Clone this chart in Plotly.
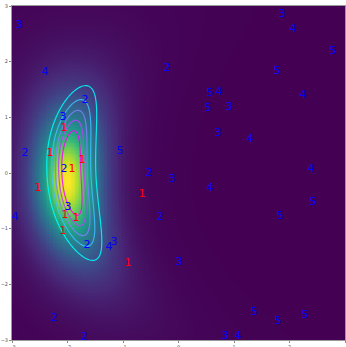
import numpy as np
import plotly.graph_objects as go

# ---- text labels (data coords) ----
label_x = [-2.874, -2.405, -1.685, -2.081, -2.063, -2.766, -2.315, -1.739, -2.063, -1.919,
           -2.532, -2.946, -1.991, -2.045, -1.847, -2.081, -1.649, -1.252, -1.162, -2.243,
           -1.703, -1.054, -0.207, 0.568, 0.730, 0.532, 0.910, 0.712, -0.532, -0.117,
           0.568, -0.658, -0.333, -0.910, 0.009, 0.838, 1.072, 1.865, 2.063, 2.784,
           1.775, 2.243, 1.288, 2.387, 2.423, 1.829, 1.360, 1.793, 2.279]
label_y = [2.659, 1.815, 1.312, 1.007, 0.810, 0.361, 0.361, 0.235, 0.074, 0.074,
           -0.268, -0.788, -0.609, -0.752, -0.806, -1.040, -1.291, -1.327, -1.237, -2.601,
           -2.943, 0.397, 1.887, 1.438, 1.456, 1.169, 1.187, 0.720, 0.002, -0.106,
           -0.268, -0.375, -0.788, -1.614, -1.596, -2.925, -2.925, 2.856, 2.587, 2.192,
           1.833, 1.402, 0.612, 0.074, -0.519, -0.770, -2.494, -2.655, -2.548]
label_text = ['3', '4', '2', '3', '1', '2', '1', '1', '2', '1',
              '1', '4', '3', '1', '1', '1', '2', '4', '3', '2',
              '2', '5', '2', '5', '4', '5', '3', '3', '2', '3',
              '4', '1', '2', '1', '3', '3', '4', '3', '4', '5',
              '5', '4', '4', '4', '5', '5', '5', '5', '5']

tick_vals = [-3, -2, -1, 0, 1, 2, 3]
tick_text = ['\u22123', '\u22122', '\u22121', '0', '1', '2', '3']

# ---- density shape parameters ----
heat_center = [-2.0, -0.15]        # peak position
heat_curv = [0.03, 0.12]           # bend above / below peak
heat_width = [0.426, 0.955]        # x, y scale
heat_nu = 5.0

cont_center = [-1.93, 0.0]
cont_bend = [0.13, -0.04]
cont_width = [0.226, 0.94]
cont_power = 2.6
cont_levels = [0.15, 0.75, 0.15]   # start, end, step

grid = np.linspace(-3, 3, 241)
X, Y = np.meshgrid(grid, grid)

# heatmap density (banana, heavy tails)
V = Y - heat_center[1]
curv = np.where(V > 0, heat_curv[0], heat_curv[1])
U = X - (heat_center[0] + curv * V ** 2)
sx = heat_width[0] * (1 + 0.08 * V ** 2)
Q = (U / sx) ** 2 + (V / heat_width[1]) ** 2
H = (1 + Q / heat_nu) ** (-(heat_nu + 2) / 2)
H = H / H.max()

# contour density
Vc = Y - cont_center[1]
Uc = X - (cont_center[0] + cont_bend[0] * Vc ** 2 + cont_bend[1] * Vc)
C = np.exp(-0.5 * (Uc / cont_width[0]) ** 2 - 0.5 * np.abs(Vc / cont_width[1]) ** cont_power)

fig = go.Figure()
fig.add_trace(go.Heatmap(z=H, x=grid, y=grid, colorscale='Viridis', showscale=False,
                         hoverinfo='skip'))
fig.add_trace(go.Contour(z=C, x=grid, y=grid, autocontour=False,
                         contours=dict(coloring='lines', start=cont_levels[0],
                                       end=cont_levels[1], size=cont_levels[2]),
                         zauto=False, zmin=cont_levels[0], zmax=cont_levels[1],
                         colorscale=[[0, 'rgb(0,255,255)'], [1, 'rgb(255,0,255)']],
                         line=dict(width=1.2), showscale=False, opacity=0.85,
                         hoverinfo='skip'))
colors = ['red' if t == '1' else 'blue' for t in label_text]
fig.add_trace(go.Scatter(x=label_x, y=label_y, mode='text', text=label_text,
                         textposition='middle center',
                         textfont=dict(color=colors, size=11, family='DejaVu Sans'),
                         hoverinfo='skip', cliponaxis=False))

axis_common = dict(range=[-3, 3], tickvals=tick_vals, ticktext=tick_text,
                   showgrid=False, zeroline=False, ticks='outside', ticklen=2,
                   tickwidth=0.6, tickcolor='#888', showline=True, linecolor='#999',
                   linewidth=1, mirror=True, automargin=False,
                   tickfont=dict(size=5, color='#555', family='DejaVu Sans'))
fig.update_layout(width=346, height=347, margin=dict(l=12, r=1, t=6, b=7),
                  paper_bgcolor='white', plot_bgcolor='#440154', showlegend=False,
                  xaxis=dict(**axis_common),
                  yaxis=dict(**axis_common))
fig.write_html('out.html', config={'displayModeBar': False},
               post_script="document.body.style.margin='0';document.body.style.overflow='hidden';")
